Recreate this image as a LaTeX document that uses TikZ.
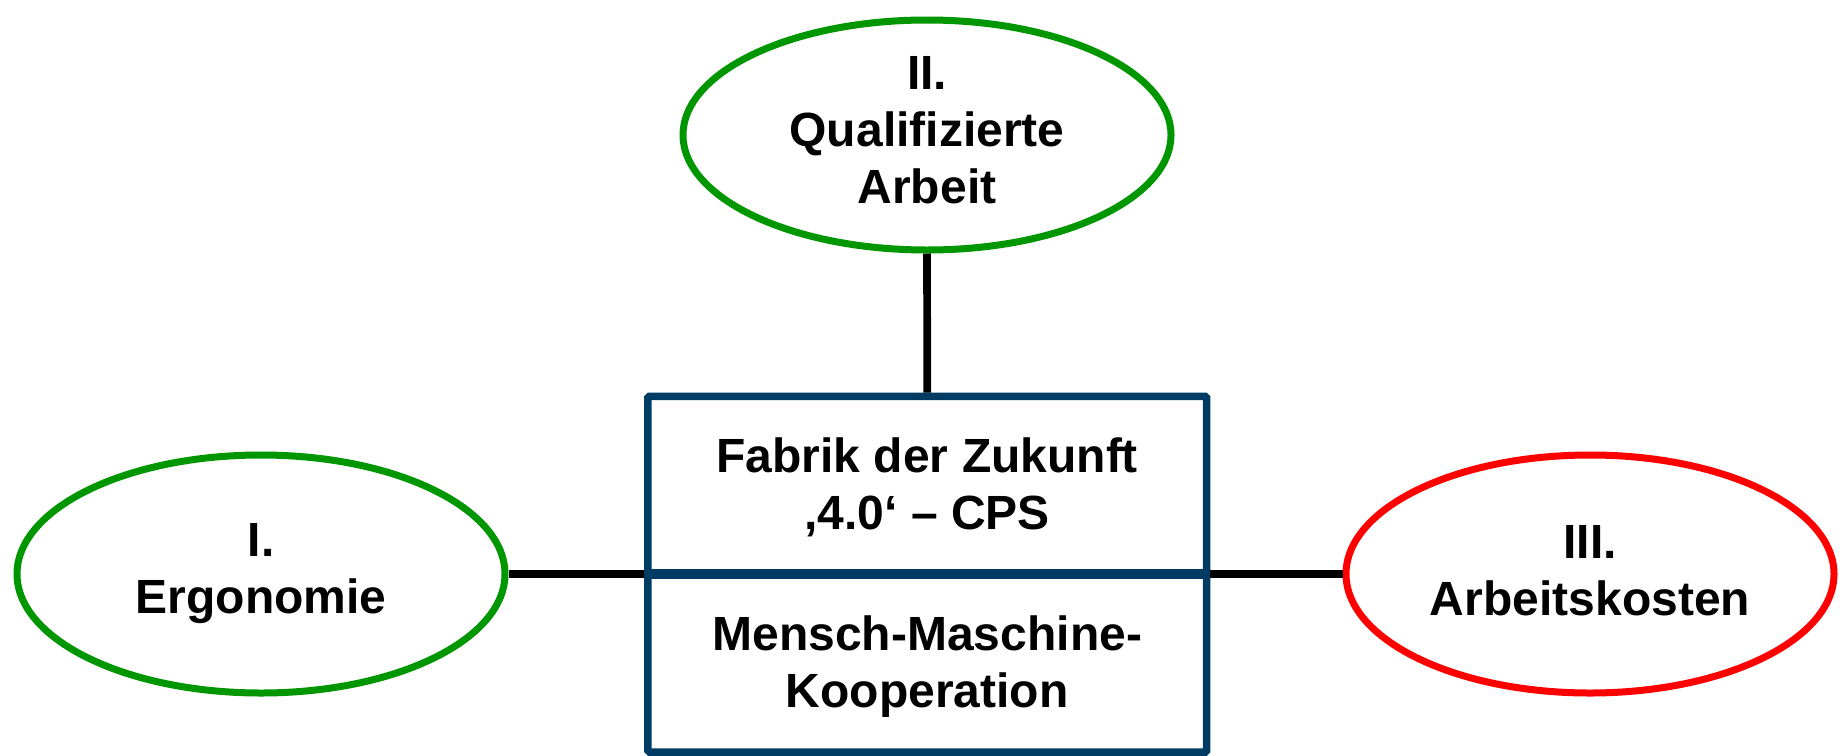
\documentclass[tikz,border=0pt]{standalone}
\usepackage{fontspec}
\setmainfont{Liberation Sans}
\usetikzlibrary{shapes.geometric}
\definecolor{grn}{RGB}{0,150,0}
\definecolor{rd}{RGB}{255,0,0}
\definecolor{blu}{RGB}{0,59,100}
\begin{document}
\begin{tikzpicture}[x=1pt,y=-1pt,
  txt/.style={font=\fontsize{48}{57}\selectfont\bfseries, align=center, inner sep=0pt},
  oval/.style={ellipse, draw, line width=7pt, minimum width=488pt, minimum height=234pt, inner sep=0pt, fill=white},
  box/.style={rectangle, draw=blu, line width=7.5pt, minimum width=558.7pt, rounded corners=1.5pt, inner sep=0pt},
  conn/.style={line width=7.7pt, black}]
\useasboundingbox (0,0) rectangle (1844,755);
\node[oval, draw=grn, minimum height=230pt] (q) at (927,135) {};
\node[oval, draw=grn, minimum height=238pt] (erg) at (261,574) {};
\node[oval, draw=rd, minimum height=238pt] (ak) at (1590,574) {};
\node[box, minimum height=178pt] (fab) at (927.3,485.3) {};
\node[box, minimum height=177.7pt] (mmk) at (927.3,663.2) {};
\draw[blu, line width=10pt] (mmk.north west) ++(0,3.75) coordinate (dl) -- (dl -| mmk.north east);
\node[txt] (qt) at ([yshift=5pt]q.center) {II.\\Qualifizierte\\Arbeit};
\node[txt] (et) at (erg.center) {I.\\Ergonomie};
\node[txt] (at) at ([yshift=3pt]ak.center) {III.\\Arbeitskosten};
\node[txt] (ft) at ([yshift=-2pt]fab.center) {Fabrik der Zukunft\\,4.0‘ – CPS};
\node[txt] (mt) at ([yshift=-3pt]mmk.center) {Mensch-Maschine-\\Kooperation};
\draw[conn] (q.south) -- (fab.north);
\draw[conn] (erg.east) -- (erg.east -| mmk.west);
\draw[conn] (ak.west) -- (ak.west -| mmk.east);
\end{tikzpicture}
\end{document}
